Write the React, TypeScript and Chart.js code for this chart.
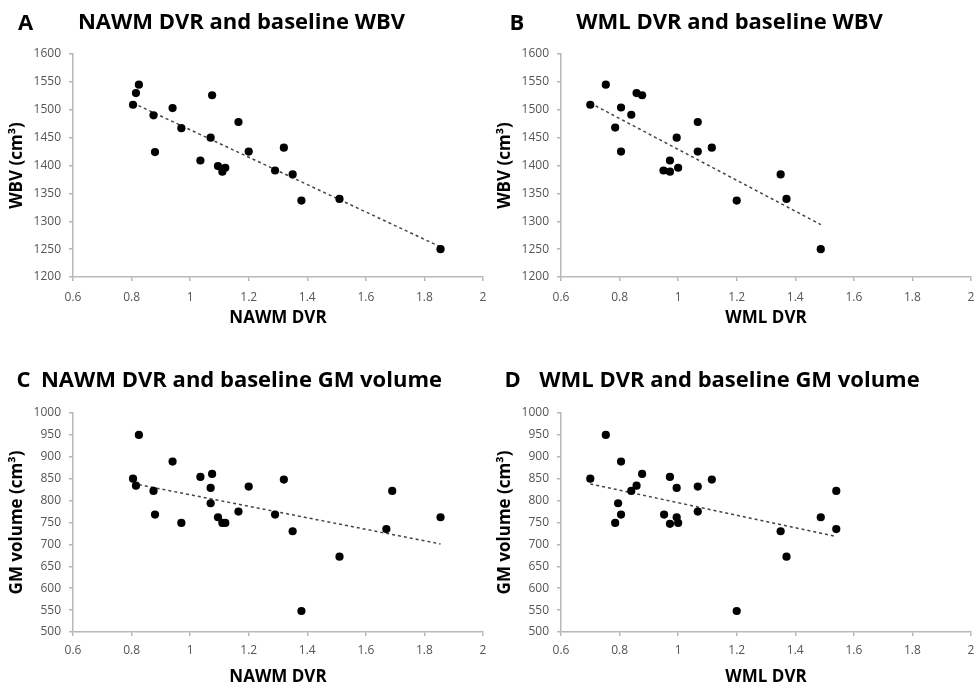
import React, { useEffect, useRef } from "react";
import { Chart, registerables } from "chart.js";

Chart.register(...registerables);

// ---- Data ----
// Panel A: NAWM DVR vs baseline WBV
const nawmDvrA = [0.805, 0.815, 0.825, 0.875, 0.88, 0.94, 0.97, 1.035, 1.075, 1.07, 1.095, 1.11, 1.12, 1.165, 1.2, 1.29, 1.32, 1.35, 1.38, 1.51, 1.855];
const wbvA = [1509, 1530, 1545, 1490, 1424, 1503, 1467, 1409, 1526, 1450, 1399, 1389, 1396, 1478, 1425, 1391, 1432, 1384, 1337, 1340, 1250];
const trendXA = [0.805, 1.855];
const trendYA = [1512, 1254];

// Panel B: WML DVR vs baseline WBV
const wmlDvrB = [0.70, 0.753, 0.785, 0.805, 0.805, 0.84, 0.858, 0.877, 0.95, 0.972, 0.972, 0.995, 1.0, 1.067, 1.067, 1.115, 1.2, 1.35, 1.37, 1.487];
const wbvB = [1509, 1545, 1468, 1504, 1425, 1491, 1530, 1526, 1391, 1409, 1389, 1450, 1396, 1478, 1425, 1432, 1337, 1384, 1340, 1250];
const trendXB = [0.70, 1.487];
const trendYB = [1512, 1294];

// Panel C: NAWM DVR vs baseline GM volume
const nawmDvrC = [0.805, 0.815, 0.825, 0.875, 0.88, 0.94, 0.97, 1.035, 1.075, 1.07, 1.07, 1.095, 1.11, 1.12, 1.165, 1.2, 1.29, 1.32, 1.35, 1.38, 1.51, 1.67, 1.69, 1.855];
const gmC = [850, 834, 950, 822, 768, 889, 749, 854, 861, 829, 794, 762, 749, 749, 775, 832, 768, 848, 730, 548, 672, 735, 822, 762];
const trendXC = [0.805, 1.855];
const trendYC = [839, 701];

// Panel D: WML DVR vs baseline GM volume
const wmlDvrD = [0.70, 0.753, 0.795, 0.785, 0.805, 0.805, 0.84, 0.858, 0.877, 0.952, 0.972, 0.972, 0.995, 0.995, 1.0, 1.067, 1.067, 1.115, 1.2, 1.35, 1.37, 1.487, 1.54, 1.54];
const gmD = [850, 950, 794, 749, 889, 768, 822, 834, 861, 768, 854, 747, 829, 762, 749, 832, 775, 848, 548, 730, 672, 762, 822, 735];
const trendXD = [0.70, 1.54];
const trendYD = [838, 718];

const FONT = "'Open Sans', 'DejaVu Sans', sans-serif";

const letterPlugin = {
  id: "panelLetter",
  afterDraw(chart: any, _args: any, opts: any) {
    const ctx = chart.ctx;
    ctx.save();
    ctx.font = `bold 22px ${FONT}`;
    ctx.fillStyle = "#000";
    ctx.textAlign = "left";
    ctx.textBaseline = "alphabetic";
    ctx.fillText(opts.text, opts.x, opts.y);
    ctx.restore();
  },
};

type PanelProps = {
  letter: string;
  letterX: number;
  title: string;
  xTitle: string;
  yTitle: string;
  xs: number[];
  ys: number[];
  tx: number[];
  ty: number[];
  yMin: number;
  yMax: number;
  row: 0 | 1;
};

function Panel(p: PanelProps) {
  const ref = useRef<HTMLCanvasElement>(null);
  useEffect(() => {
    if (!ref.current) return;
    const top = p.row === 0;
    const points = p.xs.map((x, i) => ({ x, y: p.ys[i] }));
    const trend = p.tx.map((x, i) => ({ x, y: p.ty[i] }));
    const chart = new Chart(ref.current, {
      type: "scatter",
      data: {
        datasets: [
          {
            data: points,
            pointRadius: 4.1,
            pointHoverRadius: 4.1,
            backgroundColor: "#000",
            borderColor: "#000",
            borderWidth: 0,
          },
          {
            type: "line",
            data: trend,
            borderColor: "#444",
            borderWidth: 1.5,
            borderDash: [3, 3],
            pointRadius: 0,
            fill: false,
            showLine: true,
          } as any,
        ],
      },
      options: {
        animation: false,
        responsive: false,
        events: [],
        layout: { padding: { left: 0, right: 5, top: 0, bottom: 0 } },
        plugins: {
          legend: { display: false },
          tooltip: { enabled: false },
          title: {
            display: true,
            text: p.title,
            color: "#000",
            font: { family: FONT, size: 22, weight: "bold" },
            padding: top ? { top: 9.5, bottom: 18.1 } : { top: 24, bottom: 18.6 },
          },
          panelLetter: { text: p.letter, x: p.letterX, y: top ? 29.5 : 43 },
        } as any,
        scales: {
          x: {
            type: "linear",
            min: 0.6,
            max: 2,
            ticks: {
              stepSize: 0.2,
              color: "#555",
              font: { family: FONT, size: 12 },
              padding: top ? 9 : 7,
              maxRotation: 0,
              callback: (v: any) => String(Number(Number(v).toFixed(1))),
            },
            grid: { drawOnChartArea: false, drawTicks: true, tickLength: 4, color: "#b8b8b8", lineWidth: 1.5 },
            border: { color: "#b8b8b8", width: 1.5 },
            title: {
              display: true,
              text: p.xTitle,
              color: "#000",
              font: { family: FONT, size: 17, weight: "bold" },
              padding: { top: 0, bottom: top ? 16 : 1 },
            },
            afterFit: (s: any) => {
              s.height = top ? 67 : 56;
              s.paddingLeft = 0;
              s.paddingRight = 0;
            },
          },
          y: {
            type: "linear",
            min: p.yMin,
            max: p.yMax,
            ticks: {
              stepSize: 50,
              color: "#555",
              font: { family: FONT, size: 12 },
              padding: 8,
              callback: (v: any) => String(v),
            },
            grid: { drawOnChartArea: false, drawTicks: true, tickLength: 4, color: "#b8b8b8", lineWidth: 1.5 },
            border: { color: "#b8b8b8", width: 1.5 },
            title: {
              display: true,
              text: p.yTitle,
              color: "#000",
              font: { family: FONT, size: 17, weight: "bold" },
              padding: { top: 6.5, bottom: 0 },
            },
            afterFit: (s: any) => {
              s.width = 73;
              s.paddingTop = 0;
              s.paddingBottom = 0;
            },
          },
        },
      } as any,
      plugins: [letterPlugin],
    });
    return () => chart.destroy();
  }, []);
  return <canvas ref={ref} width={488} height={344} style={{ display: "block", width: 488, height: 344 }} />;
}

export default function App() {
  return (
    <div
      style={{
        position: "absolute",
        left: 0,
        top: 0,
        width: 976,
        height: 688,
        background: "#fff",
        display: "grid",
        gridTemplateColumns: "488px 488px",
        gridTemplateRows: "344px 344px",
      }}
    >
      <Panel letter="A" letterX={18} title="NAWM DVR and baseline WBV" xTitle="NAWM DVR" yTitle="WBV (cm³)"
        xs={nawmDvrA} ys={wbvA} tx={trendXA} ty={trendYA} yMin={1200} yMax={1600} row={0} />
      <Panel letter="B" letterX={21.5} title="WML DVR and baseline WBV" xTitle="WML DVR" yTitle="WBV (cm³)"
        xs={wmlDvrB} ys={wbvB} tx={trendXB} ty={trendYB} yMin={1200} yMax={1600} row={0} />
      <Panel letter="C" letterX={16.5} title="NAWM DVR and baseline GM volume" xTitle="NAWM DVR" yTitle="GM volume (cm³)"
        xs={nawmDvrC} ys={gmC} tx={trendXC} ty={trendYC} yMin={500} yMax={1000} row={1} />
      <Panel letter="D" letterX={16.5} title="WML DVR and baseline GM volume" xTitle="WML DVR" yTitle="GM volume (cm³)"
        xs={wmlDvrD} ys={gmD} tx={trendXD} ty={trendYD} yMin={500} yMax={1000} row={1} />
    </div>
  );
}
